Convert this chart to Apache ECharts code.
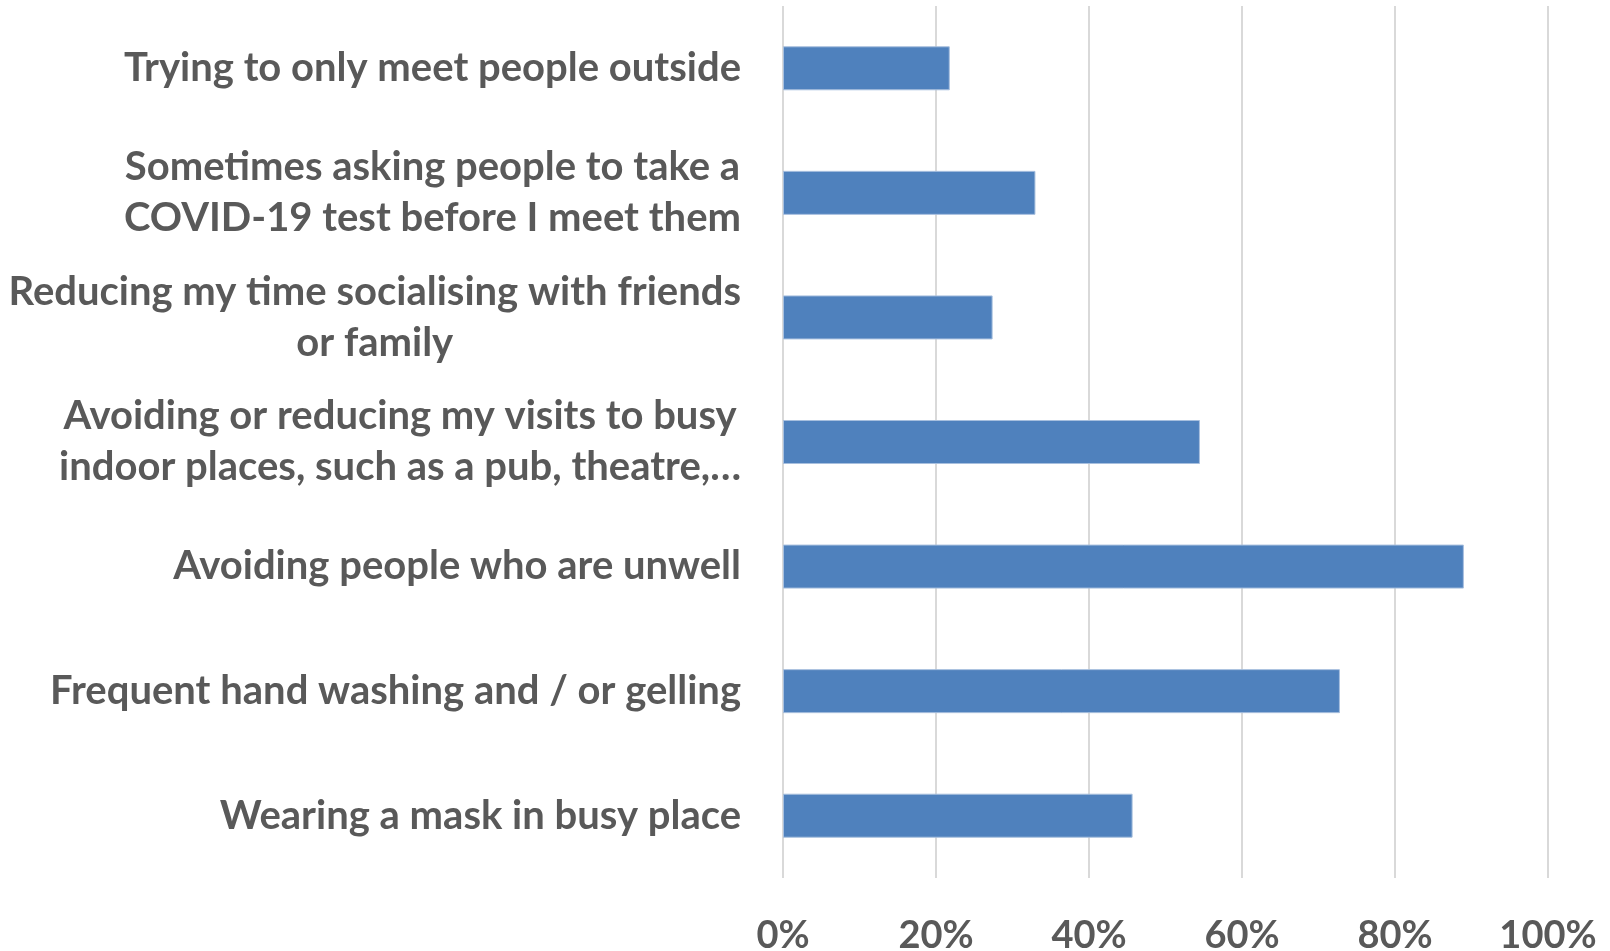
<!DOCTYPE html>
<html>
<head>
<meta charset="utf-8">
<script src="https://cdn.jsdelivr.net/npm/echarts@6/dist/echarts.min.js"></script>
<style>
  html, body { margin: 0; padding: 0; background: #fff; }
  #chart { width: 1610px; height: 951px; }
</style>
</head>
<body>
<div id="chart"></div>
<script>
// Measures taken against COVID-19 (share of respondents)
const categories = [
  'Trying to only meet people outside',
  'Sometimes asking people to take a\nCOVID-19 test before I meet them',
  'Reducing my time socialising with friends\nor family',
  'Avoiding or reducing my visits to busy\nindoor places, such as a pub, theatre,…',
  'Avoiding people who are unwell',
  'Frequent hand washing and / or gelling',
  'Wearing a mask in busy place'
];
const shares = [21.8, 33.0, 27.4, 54.5, 89.0, 72.8, 45.7];
const tickValues = [0, 20, 40, 60, 80, 100];

const FONT = '"Liberation Sans Narrow", Lato, "DejaVu Sans", sans-serif';
const TEXT = '#595959';

const chart = echarts.init(document.getElementById('chart'), null, { renderer: 'canvas' });
chart.setOption({
  animation: false,
  backgroundColor: '#ffffff',
  grid: {
    left: 783, right: 62, top: 6, height: 872,
    containLabel: false,
    outerBoundsMode: 'none'
  },
  xAxis: {
    type: 'value',
    min: tickValues[0],
    max: tickValues[tickValues.length - 1],
    interval: 20,
    axisLine: { show: false },
    axisTick: { show: false },
    splitLine: { show: true, lineStyle: { color: '#d9d9d9', width: 2 } },
    axisLabel: {
      margin: 39,
      color: TEXT,
      fontFamily: FONT,
      fontWeight: 'bold',
      fontSize: 38,
      formatter: v => v + '%'
    }
  },
  yAxis: {
    type: 'category',
    inverse: true,
    data: categories,
    axisLine: { show: false },
    axisTick: { show: false },
    splitLine: { show: false },
    axisLabel: {
      margin: 42,
      align: 'right',
      color: TEXT,
      fontFamily: FONT,
      fontWeight: 'bold',
      fontSize: 40,
      lineHeight: 51,
      // each line is centred within the right-aligned label block
      formatter: v => v.split('\n').map(s => '{c|' + s + '}').join('\n'),
      rich: {
        c: {
          align: 'center',
          color: TEXT,
          fontFamily: FONT,
          fontWeight: 'bold',
          fontSize: 40,
          lineHeight: 51
        }
      }
    }
  },
  series: [{
    type: 'bar',
    data: shares,
    barWidth: 44,
    itemStyle: { color: '#4f81bd', borderColor: '#a7bfde', borderWidth: 1 }
  }]
});
</script>
</body>
</html>
